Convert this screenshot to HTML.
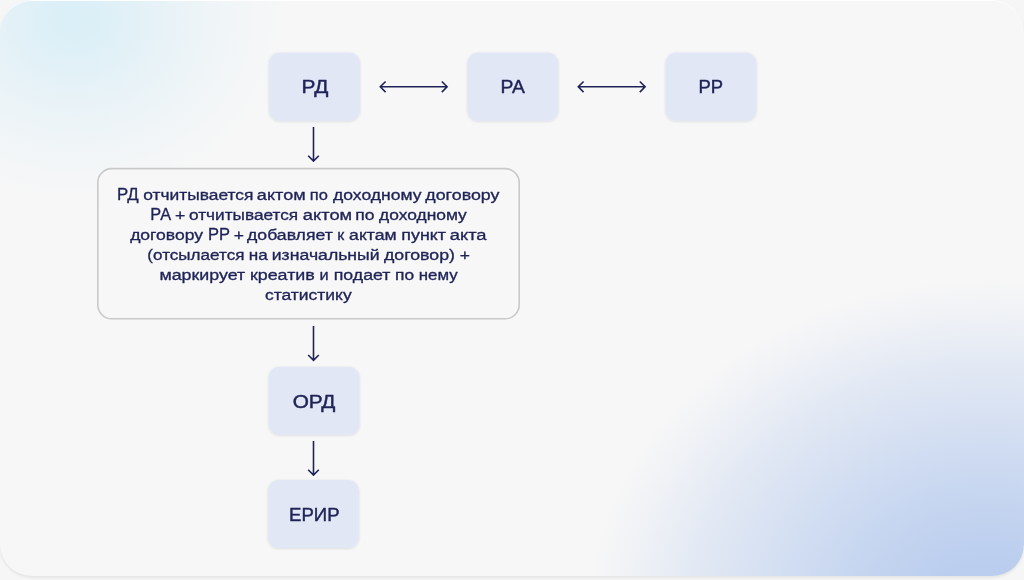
<!DOCTYPE html>
<html lang="ru">
<head>
<meta charset="utf-8">
<title>Схема</title>
<style>
html,body{margin:0;padding:0;}
body{width:1024px;height:580px;overflow:hidden;background:#f6f6f6;font-family:"Liberation Sans",sans-serif;position:relative;}
.card{position:absolute;left:0;top:0;width:1024px;height:576px;border-radius:32px;background:
 radial-gradient(ellipse 215px 185px at 74px 20px, rgba(216,238,247,0.95) 0%, rgba(216,238,247,0.88) 10%, rgba(216,238,247,0.7) 25%, rgba(216,238,247,0.47) 45%, rgba(216,238,247,0.26) 65%, rgba(216,238,247,0.09) 85%, rgba(216,238,247,0) 100%),
 radial-gradient(ellipse 402px 335px at 990px 614px, rgba(184,204,238,1) 0%, rgba(184,204,238,0.96) 15%, rgba(184,204,238,0.83) 30%, rgba(184,204,238,0.62) 50%, rgba(184,204,238,0.32) 75%, rgba(184,204,238,0.12) 90%, rgba(184,204,238,0) 100%),
 #f7f7f7;
 box-shadow:0 2px 3px rgba(0,0,0,0.07), inset 0 1px 0 rgba(255,255,255,0.9);
 overflow:hidden;}
svg{position:absolute;left:0;top:0;will-change:transform;}
svg text{font-family:"Liberation Sans",sans-serif;fill:#1f2357;stroke:#1f2357;stroke-linejoin:round;}
</style>
</head>
<body>
<div class="card">
 <svg width="1024" height="576" viewBox="0 0 1024 576">
  <defs><filter id="sh" x="-10%" y="-10%" width="120%" height="125%"><feDropShadow dx="0" dy="0.8" stdDeviation="1.1" flood-color="#4a5070" flood-opacity="0.17"/></filter></defs>
  <g fill="#e1e7f4" filter="url(#sh)">
   <rect x="269" y="52.45" width="91" height="68.2" rx="11"/>
   <rect x="467.4" y="52.45" width="91" height="68.2" rx="11"/>
   <rect x="665.45" y="52.45" width="91" height="68.2" rx="11"/>
   <rect x="268.55" y="366.75" width="91" height="67.9" rx="11"/>
   <rect x="267.9" y="480.05" width="91" height="67.9" rx="11"/>
  </g>
  <rect x="97.8" y="168.6" width="421.4" height="150.2" rx="14" fill="#f7f7f7" stroke="#c9c9c9" stroke-width="1.6"/>
  <g fill="none" stroke="#1f2357" stroke-width="1.6" stroke-linecap="butt" stroke-linejoin="miter">
   <path d="M380.3 86.8H447.1M385.6 81.5L380.3 86.8L385.6 92.1M441.8 81.5L447.1 86.8L441.8 92.1"/>
   <path d="M578.3 86.8H645.1M583.6 81.5L578.3 86.8L583.6 92.1M639.8 81.5L645.1 86.8L639.8 92.1"/>
   <path d="M313.5 127.1V161.1M308.2 155.8L313.5 161.1L318.8 155.8"/>
   <path d="M313.5 326.0V360.3M308.2 355.0L313.5 360.3L318.8 355.0"/>
   <path d="M313.5 441.1V475.1M308.2 469.8L313.5 475.1L318.8 469.8"/>
  </g>
  <text x="301.63" y="93.00" font-size="18.9" stroke-width="0.45" textLength="26.63" lengthAdjust="spacingAndGlyphs">РД</text>
  <text x="500.53" y="93.00" font-size="18.9" stroke-width="0.45" textLength="24.46" lengthAdjust="spacingAndGlyphs">РА</text>
  <text x="698.47" y="93.00" font-size="18.9" stroke-width="0.45" textLength="24.58" lengthAdjust="spacingAndGlyphs">РР</text>
  <text x="292.65" y="408.00" font-size="18.9" stroke-width="0.45" textLength="42.73" lengthAdjust="spacingAndGlyphs">ОРД</text>
  <text x="289.07" y="521.00" font-size="18.9" stroke-width="0.45" textLength="50.48" lengthAdjust="spacingAndGlyphs">ЕРИР</text>
  <text x="117.14" y="200.00" font-size="16.0" stroke-width="0.32" textLength="21.47" lengthAdjust="spacingAndGlyphs">РД</text>
  <text x="143.23" y="200.00" font-size="14.9" stroke-width="0.32" textLength="110.17" lengthAdjust="spacingAndGlyphs">отчитывается</text>
  <text x="256.87" y="200.00" font-size="14.9" stroke-width="0.32" textLength="48.83" lengthAdjust="spacingAndGlyphs">актом</text>
  <text x="309.73" y="200.00" font-size="14.9" stroke-width="0.32" textLength="18.08" lengthAdjust="spacingAndGlyphs">по</text>
  <text x="333.04" y="200.00" font-size="14.9" stroke-width="0.32" textLength="88.53" lengthAdjust="spacingAndGlyphs">доходному</text>
  <text x="425.33" y="200.00" font-size="14.9" stroke-width="0.32" textLength="74.08" lengthAdjust="spacingAndGlyphs">договору</text>
  <text x="150.35" y="220.00" font-size="16.0" stroke-width="0.32" textLength="20.67" lengthAdjust="spacingAndGlyphs">РА</text>
  <text x="174.91" y="220.00" font-size="14.9" stroke-width="0.32" textLength="10.33" lengthAdjust="spacingAndGlyphs">+</text>
  <text x="189.01" y="220.00" font-size="14.9" stroke-width="0.32" textLength="109.18" lengthAdjust="spacingAndGlyphs">отчитывается</text>
  <text x="302.89" y="220.00" font-size="14.9" stroke-width="0.32" textLength="49.27" lengthAdjust="spacingAndGlyphs">актом</text>
  <text x="355.29" y="220.00" font-size="14.9" stroke-width="0.32" textLength="19.28" lengthAdjust="spacingAndGlyphs">по</text>
  <text x="379.14" y="220.00" font-size="14.9" stroke-width="0.32" textLength="87.71" lengthAdjust="spacingAndGlyphs">доходному</text>
  <text x="130.15" y="240.00" font-size="14.9" stroke-width="0.32" textLength="72.93" lengthAdjust="spacingAndGlyphs">договору</text>
  <text x="208.09" y="240.00" font-size="16.0" stroke-width="0.32" textLength="22.00" lengthAdjust="spacingAndGlyphs">РР</text>
  <text x="233.80" y="240.00" font-size="14.9" stroke-width="0.32" textLength="10.17" lengthAdjust="spacingAndGlyphs">+</text>
  <text x="247.05" y="240.00" font-size="14.9" stroke-width="0.32" textLength="85.73" lengthAdjust="spacingAndGlyphs">добавляет</text>
  <text x="337.31" y="240.00" font-size="14.9" stroke-width="0.32" textLength="6.95" lengthAdjust="spacingAndGlyphs">к</text>
  <text x="349.10" y="240.00" font-size="14.9" stroke-width="0.32" textLength="47.54" lengthAdjust="spacingAndGlyphs">актам</text>
  <text x="401.32" y="240.00" font-size="14.9" stroke-width="0.32" textLength="44.64" lengthAdjust="spacingAndGlyphs">пункт</text>
  <text x="449.75" y="240.00" font-size="14.9" stroke-width="0.32" textLength="36.83" lengthAdjust="spacingAndGlyphs">акта</text>
  <text x="147.37" y="260.00" font-size="14.9" stroke-width="0.32" textLength="97.08" lengthAdjust="spacingAndGlyphs">(отсылается</text>
  <text x="248.69" y="260.00" font-size="14.9" stroke-width="0.32" textLength="18.96" lengthAdjust="spacingAndGlyphs">на</text>
  <text x="271.78" y="260.00" font-size="14.9" stroke-width="0.32" textLength="107.90" lengthAdjust="spacingAndGlyphs">изначальный</text>
  <text x="383.93" y="260.00" font-size="14.9" stroke-width="0.32" textLength="71.00" lengthAdjust="spacingAndGlyphs">договор)</text>
  <text x="459.80" y="260.00" font-size="14.9" stroke-width="0.32" textLength="10.17" lengthAdjust="spacingAndGlyphs">+</text>
  <text x="159.49" y="280.00" font-size="14.9" stroke-width="0.32" textLength="85.61" lengthAdjust="spacingAndGlyphs">маркирует</text>
  <text x="249.98" y="280.00" font-size="14.9" stroke-width="0.32" textLength="64.80" lengthAdjust="spacingAndGlyphs">креатив</text>
  <text x="319.53" y="280.00" font-size="14.9" stroke-width="0.32" textLength="9.16" lengthAdjust="spacingAndGlyphs">и</text>
  <text x="333.71" y="280.00" font-size="14.9" stroke-width="0.32" textLength="56.72" lengthAdjust="spacingAndGlyphs">подает</text>
  <text x="395.08" y="280.00" font-size="14.9" stroke-width="0.32" textLength="19.09" lengthAdjust="spacingAndGlyphs">по</text>
  <text x="418.72" y="280.00" font-size="14.9" stroke-width="0.32" textLength="38.84" lengthAdjust="spacingAndGlyphs">нему</text>
  <text x="264.93" y="300.00" font-size="14.9" stroke-width="0.32" textLength="86.71" lengthAdjust="spacingAndGlyphs">статистику</text>
 </svg>
</div>
</body>
</html>
